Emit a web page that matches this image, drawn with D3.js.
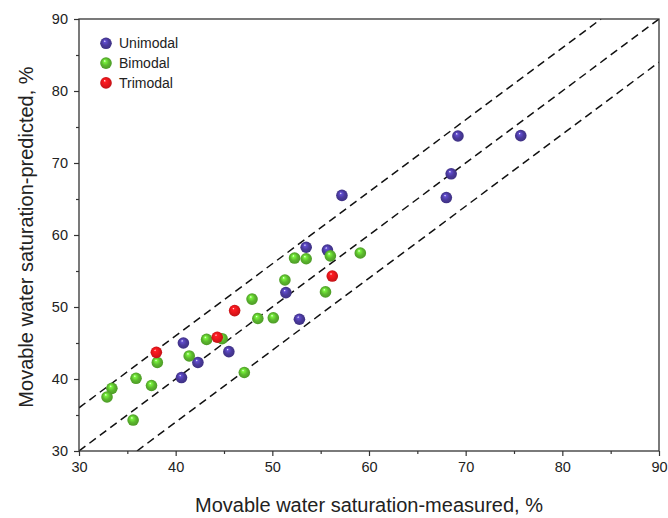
<!DOCTYPE html>
<html>
<head>
<meta charset="utf-8">
<script src="https://cdn.jsdelivr.net/npm/d3@7"></script>
<style>
  html, body { margin: 0; padding: 0; background: #fff; }
  svg { display: block; font-family: Arial, "Liberation Sans", sans-serif; }
</style>
</head>
<body>
<div id="chart"></div>
<script>
'use strict';

// measured / predicted pairs
var unimodal = [
  [69.2, 73.75], [75.7, 73.8], [68.5, 68.5], [68.0, 65.2], [57.2, 65.5],
  [53.5, 58.3], [55.7, 57.9], [51.4, 52.0], [52.8, 48.3], [45.5, 43.8],
  [40.8, 45.0], [42.3, 42.3], [40.6, 40.2]
];
var bimodal = [
  [56.0, 57.1], [59.1, 57.5], [52.3, 56.8], [53.5, 56.7], [51.3, 53.75],
  [55.5, 52.1], [47.9, 51.1], [48.5, 48.4], [50.1, 48.5], [43.2, 45.5],
  [44.8, 45.6], [47.1, 40.9], [38.1, 42.3], [41.4, 43.2], [35.9, 40.1],
  [37.5, 39.1], [33.4, 38.7], [32.9, 37.5], [35.6, 34.3]
];
var trimodal = [
  [56.2, 54.3], [46.1, 49.5], [44.3, 45.8], [38.0, 43.7]
];
var seriesNames = ['Unimodal', 'Bimodal', 'Trimodal'];
var seriesData = [unimodal, bimodal, trimodal];
var seriesColors = ['#4a3a9c', '#5cb82e', '#e8161b'];
var lineOffsets = [6, 0, -6];
var majorTicks = [30, 40, 50, 60, 70, 80, 90];
var minorTicks = [35, 45, 55, 65, 75, 85];

var width = 668, height = 518;
var margin = {top: 19, right: 9, bottom: 67, left: 79};

var svg = d3.select('#chart').append('svg')
  .attr('width', width)
  .attr('height', height);

var x = d3.scaleLinear().domain([30, 90]).range([margin.left, width - margin.right]);
var y = d3.scaleLinear().domain([30, 90]).range([height - margin.bottom, margin.top]);

// ball gradients
var defs = svg.append('defs');
seriesColors.forEach(function(c, i) {
  var g = defs.append('radialGradient')
    .attr('id', 'ball' + i)
    .attr('cx', '50%').attr('cy', '50%').attr('r', '55%')
    .attr('fx', '38%').attr('fy', '30%');
  g.append('stop').attr('offset', '0%').attr('stop-color', '#ffffff');
  g.append('stop').attr('offset', '18%').attr('stop-color', d3.rgb(c).brighter(0.8));
  g.append('stop').attr('offset', '55%').attr('stop-color', c);
  g.append('stop').attr('offset', '100%').attr('stop-color', d3.rgb(c).darker(0.6));
});

defs.append('clipPath').attr('id', 'plotClip')
  .append('rect')
  .attr('x', x(30)).attr('y', y(90))
  .attr('width', x(90) - x(30)).attr('height', y(30) - y(90));

// dashed reference lines y = x + k
svg.append('g')
  .attr('clip-path', 'url(#plotClip)')
  .selectAll('line')
  .data(lineOffsets)
  .enter()
  .append('line')
  .attr('x1', function(k) { return x(Math.max(30, 30 - k)); })
  .attr('y1', function(k) { return y(Math.max(30, 30 - k) + k); })
  .attr('x2', function(k) { return x(Math.min(90, 90 - k)); })
  .attr('y2', function(k) { return y(Math.min(90, 90 - k) + k); })
  .attr('stroke', '#111')
  .attr('stroke-width', 1.5)
  .attr('stroke-dasharray', '8,5');

// axes
svg.append('g')
  .attr('transform', 'translate(0,' + y(30) + ')')
  .call(d3.axisBottom(x).tickValues(majorTicks).tickSize(5).tickPadding(6));
svg.append('g')
  .attr('transform', 'translate(0,' + y(30) + ')')
  .call(d3.axisBottom(x).tickValues(minorTicks).tickSize(3).tickFormat(''));
svg.append('g')
  .attr('transform', 'translate(' + x(30) + ',0)')
  .call(d3.axisLeft(y).tickValues(majorTicks).tickSize(5).tickPadding(6));
svg.append('g')
  .attr('transform', 'translate(' + x(30) + ',0)')
  .call(d3.axisLeft(y).tickValues(minorTicks).tickSize(3).tickFormat(''));

svg.selectAll('.domain').remove();
svg.selectAll('.tick line').attr('stroke', '#333').attr('stroke-width', 1.2);
svg.selectAll('.tick text')
  .attr('fill', '#222')
  .style('font-size', '14.5px')
  .style('font-family', 'Arial, "Liberation Sans", sans-serif');

// frame
svg.append('rect')
  .attr('x', x(30)).attr('y', y(90))
  .attr('width', x(90) - x(30)).attr('height', y(30) - y(90))
  .attr('fill', 'none')
  .attr('stroke', '#333')
  .attr('stroke-width', 1.3);

// points
seriesData.forEach(function(data, i) {
  svg.append('g').selectAll('circle')
    .data(data)
    .enter()
    .append('circle')
    .attr('cx', function(d) { return x(d[0]); })
    .attr('cy', function(d) { return y(d[1]); })
    .attr('r', 5.8)
    .attr('fill', 'url(#ball' + i + ')');
});

// legend
var legend = svg.append('g')
  .selectAll('g')
  .data(seriesNames)
  .enter()
  .append('g')
  .attr('transform', function(d, i) { return 'translate(106,' + (43.3 + i * 19.8) + ')'; });
legend.append('circle')
  .attr('r', 5.8)
  .attr('fill', function(d, i) { return 'url(#ball' + i + ')'; });
legend.append('text')
  .attr('x', 13)
  .attr('dy', '0.35em')
  .attr('fill', '#222')
  .style('font-size', '14px')
  .text(function(d) { return d; });

// axis titles
svg.append('text')
  .attr('x', 369)
  .attr('y', 512)
  .attr('text-anchor', 'middle')
  .attr('fill', '#222')
  .style('font-size', '20px')
  .text('Movable water saturation-measured, %');

svg.append('text')
  .attr('transform', 'translate(33,237) rotate(-90)')
  .attr('text-anchor', 'middle')
  .attr('fill', '#222')
  .style('font-size', '20px')
  .text('Movable water saturation-predicted, %');
</script>
</body>
</html>
